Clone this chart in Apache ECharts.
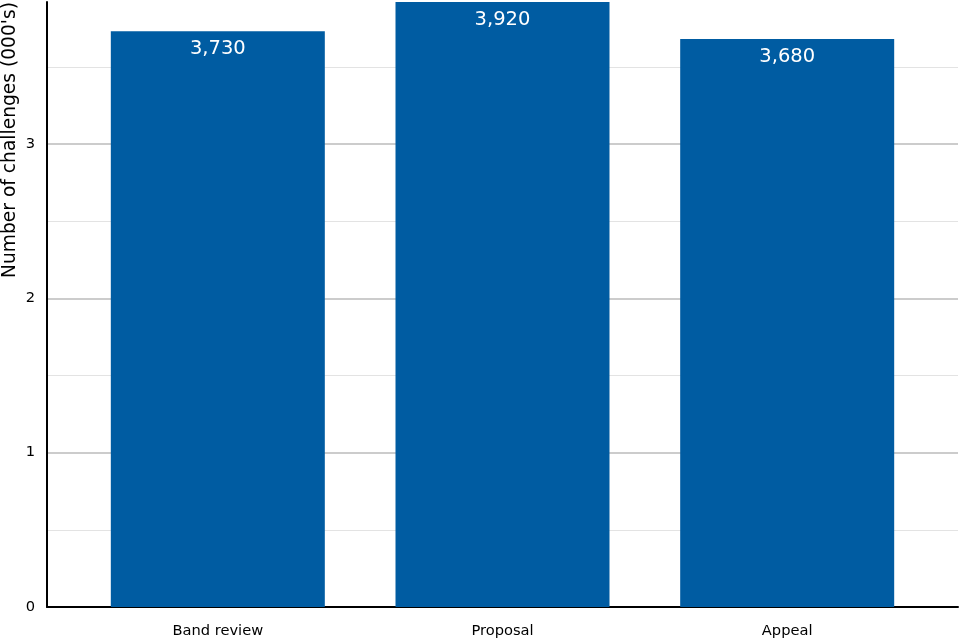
<!DOCTYPE html>
<html>
<head>
<meta charset="utf-8">
<script src="https://cdn.jsdelivr.net/npm/echarts@6/dist/echarts.min.js"></script>
<style>html,body{margin:0;padding:0;background:#fff}#c{width:960px;height:640px}</style>
</head>
<body>
<div id="c"></div>
<script>
const categories = ['Band review', 'Proposal', 'Appeal'];
const challenges = [3.73, 3.92, 3.68];
const yTicks = [0, 1, 2, 3];

const chart = echarts.init(document.getElementById('c'));
const FONT = 'DejaVu Sans';
const catIdx = categories.map((c, i) => i);
chart.setOption({
  animation: false,
  textStyle: { fontFamily: FONT },
  grid: { left: 47, right: 2, top: 2, bottom: 33, containLabel: false },
  xAxis: {
    type: 'value',
    min: -0.6,
    max: categories.length - 0.4,
    axisLine: { onZero: false, lineStyle: { color: '#000', width: 2 } },
    axisTick: { show: false },
    splitLine: { show: false },
    axisLabel: {
      customValues: catIdx,
      color: '#000', fontSize: 14.67, margin: 17, fontFamily: FONT,
      formatter: v => categories[Math.round(v)] || ''
    }
  },
  yAxis: {
    type: 'value',
    min: 0,
    max: 3.92,
    interval: 1,
    axisLine: { show: true, onZero: false, lineStyle: { color: '#000', width: 2 } },
    axisTick: { show: false },
    axisLabel: {
      customValues: yTicks,
      color: '#000', fontSize: 14.67, margin: 12, fontFamily: FONT,
      formatter: v => String(v)
    },
    splitLine: { show: true, showMinLine: false, showMaxLine: false, lineStyle: { color: '#cccccc', width: 2 } },
    minorTick: { show: false, splitNumber: 2 },
    minorSplitLine: { show: true, lineStyle: { color: '#e3e3e3', width: 1 } }
  },
  graphic: [{
    type: 'text',
    x: 10.5, y: 140,
    rotation: Math.PI / 2,
    style: {
      text: "Number of challenges (000's)",
      fontSize: 18.67, fontFamily: FONT, fill: '#000',
      textAlign: 'center', textVerticalAlign: 'middle'
    }
  }],
  series: [{
    type: 'bar',
    data: challenges.map((v, i) => [catIdx[i], v]),
    barWidth: 214,
    itemStyle: { color: '#005ca2' },
    label: {
      show: true,
      position: 'insideTop',
      distance: 8,
      color: '#fff',
      fontSize: 19.5,
      fontFamily: FONT,
      formatter: p => Math.round(p.value[1] * 1000).toLocaleString('en-US')
    }
  }]
});
</script>
</body>
</html>
